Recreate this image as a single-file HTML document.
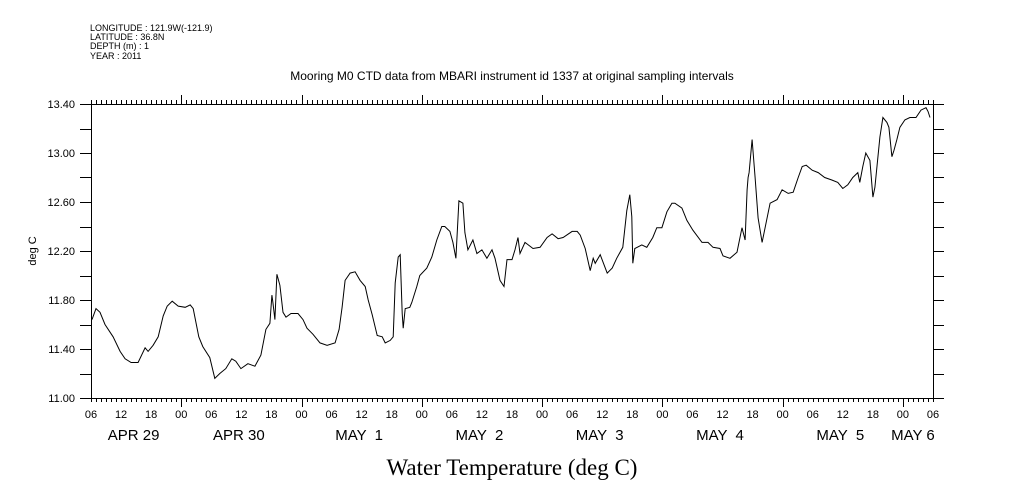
<!DOCTYPE html>
<html><head><meta charset="utf-8"><style>
html,body{margin:0;padding:0;background:#fff;}
svg{display:block;}
text{font-family:"Liberation Sans",sans-serif;fill:#000;}
</style></head><body>
<svg id="chart" width="1009" height="504" viewBox="0 0 1009 504" xmlns="http://www.w3.org/2000/svg">
<g font-size="9">
<text x="90" y="31">LONGITUDE : 121.9W(-121.9)</text>
<text x="90" y="40">LATITUDE : 36.8N</text>
<text x="90" y="49">DEPTH (m) : 1</text>
<text x="90" y="59">YEAR : 2011</text>
</g>
<text x="512" y="80" text-anchor="middle" font-size="12">Mooring M0 CTD data from MBARI instrument id 1337 at original sampling intervals</text>
<text transform="translate(36,251) rotate(-90)" text-anchor="middle" font-size="11">deg C</text>
<text x="512" y="475" text-anchor="middle" font-size="23" style="font-family:'Liberation Serif',serif">Water Temperature (deg C)</text>
<g id="axes"></g>
<g id="ticks"></g>
<g id="labels"></g>
<path id="series" fill="none" stroke="#000" stroke-width="1"/>
</svg>
<script>
const hours=[0.2,1.0,1.8,2.8,4.4,5.8,6.8,8.0,9.4,10.8,11.4,12.4,13.4,14.4,15.2,16.2,17.4,18.8,19.8,20.4,21.5,22.3,23.7,24.7,25.7,26.9,28.1,28.9,29.9,31.3,32.7,33.9,34.9,35.7,36.1,36.3,36.7,37.1,37.7,38.3,38.9,39.9,41.3,42.3,43.1,44.3,45.7,47.1,48.7,49.5,50.1,50.7,51.7,52.7,53.7,54.7,55.3,56.1,57.1,58.1,58.7,59.7,60.3,60.7,61.3,61.7,62.1,62.3,62.7,63.6,64.0,65.0,65.6,67.0,68.0,69.0,70.0,70.6,71.6,72.2,72.8,73.4,74.2,74.6,75.2,76.2,77.0,78.0,79.0,80.0,80.6,81.6,82.4,83.0,84.0,84.6,85.2,85.6,86.6,88.2,89.6,91.0,92.0,93.2,94.2,96.0,97.0,97.6,98.6,99.6,100.2,100.6,101.6,103.0,104.0,104.9,106.1,106.9,107.5,107.9,108.1,108.5,109.9,110.9,112.1,112.9,113.9,114.9,115.9,116.5,117.9,118.9,120.1,121.9,123.1,124.1,125.5,126.1,127.5,128.9,129.3,129.9,130.5,130.9,131.1,131.3,131.9,132.5,133.1,133.9,135.5,136.9,137.9,139.1,140.1,141.1,141.9,142.7,143.9,145.1,146.4,147.8,149.0,150.0,151.0,152.0,153.0,153.4,154.0,154.6,155.4,156.0,156.4,157.4,158.0,158.8,159.2,159.8,160.2,160.8,161.4,162.4,163.4,164.6,165.6,166.6,167.0,167.4];
const temps=[11.64,11.73,11.70,11.60,11.50,11.38,11.32,11.29,11.29,11.41,11.38,11.43,11.50,11.67,11.75,11.79,11.75,11.74,11.76,11.73,11.50,11.42,11.33,11.16,11.20,11.24,11.32,11.30,11.24,11.28,11.26,11.35,11.56,11.61,11.84,11.78,11.64,12.01,11.92,11.70,11.66,11.69,11.69,11.64,11.57,11.52,11.45,11.43,11.45,11.56,11.74,11.96,12.02,12.03,11.96,11.91,11.80,11.68,11.51,11.50,11.45,11.47,11.50,11.94,12.15,12.17,11.69,11.57,11.73,11.74,11.78,11.91,12.00,12.06,12.15,12.29,12.40,12.40,12.36,12.27,12.14,12.61,12.59,12.35,12.21,12.29,12.18,12.21,12.14,12.21,12.14,11.96,11.91,12.13,12.13,12.21,12.31,12.18,12.27,12.22,12.23,12.31,12.34,12.30,12.31,12.36,12.36,12.33,12.22,12.04,12.14,12.10,12.17,12.02,12.06,12.14,12.23,12.53,12.66,12.48,12.10,12.22,12.25,12.23,12.31,12.39,12.39,12.52,12.59,12.59,12.55,12.45,12.37,12.27,12.27,12.23,12.22,12.16,12.14,12.19,12.27,12.39,12.29,12.70,12.80,12.84,13.11,12.80,12.47,12.27,12.59,12.62,12.70,12.67,12.68,12.80,12.89,12.90,12.86,12.84,12.80,12.78,12.76,12.71,12.74,12.80,12.84,12.76,12.89,13.00,12.94,12.64,12.72,13.13,13.29,13.25,13.21,12.97,13.02,13.11,13.21,13.27,13.29,13.29,13.35,13.37,13.34,13.29];
const yTickLabels=["11.00","11.40","11.80","12.20","12.60","13.00","13.40"];
const hourLabels=["06","12","18","00"];
const dayLabels=["APR 29","APR 30","MAY  1","MAY  2","MAY  3","MAY  4","MAY  5","MAY 6"];
const dayLabelHours=[8.5,29.5,53.5,77.5,101.5,125.5,149.5,164];

const L=91,R=933,T=104,B=398,H0=0,H1=168,V0=11,V1=13.4;
const xs=h=>L+(h-H0)/(H1-H0)*(R-L);
const ys=v=>B-(v-V0)/(V1-V0)*(B-T);
const NS="http://www.w3.org/2000/svg";
function mk(tag,parent){const e=document.createElementNS(NS,tag);document.getElementById(parent).appendChild(e);return e;}
function line(parent,x1,y1,x2,y2){const e=mk('line',parent);e.setAttribute('x1',x1);e.setAttribute('y1',y1);e.setAttribute('x2',x2);e.setAttribute('y2',y2);e.setAttribute('stroke','#000');e.setAttribute('stroke-width','1');e.setAttribute('shape-rendering','crispEdges');return e;}

const fr=mk('rect','axes');


fr.setAttribute('x',L+0.5);fr.setAttribute('y',T+0.5);fr.setAttribute('width',R-L);fr.setAttribute('height',B-T);
fr.setAttribute('fill','none');fr.setAttribute('stroke','#000');fr.setAttribute('shape-rendering','crispEdges');

for(let h=0;h<=168;h++){
  const x=Math.round(xs(h))+0.5;
  const major=((h+6)%24===0);
  const len=major?9:4;
  line('ticks',x,B,x,B+len);
  line('ticks',x,T,x,T-len);
}
for(let i=0;i<=12;i++){
  const v=V0+i*0.2;const y=Math.round(ys(v))+0.5;
  line('ticks',L-11,y,L,y);
  line('ticks',R,y,R+11,y);
}
yTickLabels.forEach(s=>{
  const t=mk('text','labels');
  
  
  t.setAttribute('x',L-16);t.setAttribute('y',ys(parseFloat(s))+4);
  t.setAttribute('text-anchor','end');t.setAttribute('font-size','11');t.textContent=s;
});
for(let h=0;h<=168;h+=6){
  const t=mk('text','labels');
  
  
  t.setAttribute('x',xs(h));t.setAttribute('y',418);
  t.setAttribute('text-anchor','middle');t.setAttribute('font-size','11');
  t.textContent=hourLabels[(h/6)%4];
}
dayLabels.forEach((s,i)=>{
  const t=mk('text','labels');
  
  
  t.setAttribute('x',xs(dayLabelHours[i]));t.setAttribute('y',440);
  t.setAttribute('text-anchor','middle');t.setAttribute('font-size','15');
  t.setAttribute('xml:space','preserve');t.style.whiteSpace='pre';
  t.textContent=s;
});
let d='';
hours.forEach((h,i)=>{d+=(i?'L':'M')+xs(h).toFixed(1)+' '+ys(temps[i]).toFixed(1);});
document.getElementById('series').setAttribute('d',d);
</script>
</body></html>
